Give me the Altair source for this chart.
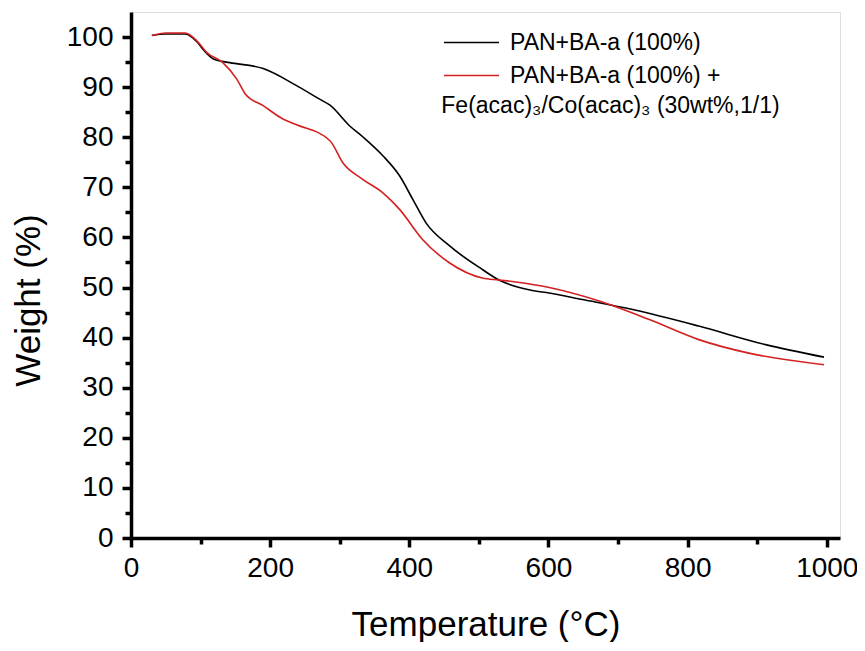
import altair as alt
import pandas as pd

# ---- data ----
black_T = [30, 50, 78, 95, 105, 120, 142, 190, 238, 271, 286, 314, 333, 362, 386, 405,
           424, 458, 505, 529, 544, 577, 601, 649, 721, 816, 912, 996]
black_W = [100.3, 100.6, 100.6, 99.0, 97.3, 95.5, 94.9, 93.7, 90.3, 87.6, 86.4, 82.3, 80.1,
           76.3, 72.3, 67.6, 62.9, 58.3, 53.6, 51.5, 50.6, 49.4, 48.9, 47.6, 45.6, 42.3, 38.6, 36.1]

red_T = [30, 50, 78, 95, 109, 132, 152, 164, 190, 219, 238, 286, 305, 333, 362, 386, 419,
         458, 505, 529, 553, 601, 673, 745, 816, 888, 996]
red_W = [100.3, 100.8, 100.8, 99.2, 96.9, 94.9, 91.6, 88.7, 86.3, 83.6, 82.5, 79.3, 74.8,
         71.6, 68.9, 65.6, 59.6, 54.9, 51.9, 51.5, 51.1, 50.0, 47.3, 43.6, 39.6, 36.9, 34.6]

series_names = ["PAN+BA-a (100%)", "PAN+BA-a (100%) +"]
series_colors = ["#000000", "#d42020"]
legend_continuation = ["Fe(acac)\u2083/Co(acac)\u2083 (30wt%,1/1)"]

x_major = [0, 200, 400, 600, 800, 1000]
x_minor = [100, 300, 500, 700, 900]
y_major = [0, 10, 20, 30, 40, 50, 60, 70, 80, 90, 100]
y_minor = [5, 15, 25, 35, 45, 55, 65, 75, 85, 95]

df = pd.concat([
    pd.DataFrame({"T": black_T, "W": black_W, "series": series_names[0]}),
    pd.DataFrame({"T": red_T, "W": red_W, "series": series_names[1]}),
], ignore_index=True)

FONT = "Liberation Sans"
x_scale = alt.Scale(domain=[0, 1019], nice=False, zero=False)
y_scale = alt.Scale(domain=[0, 105], nice=False)

lines = alt.Chart(df).mark_line(strokeWidth=1.6, interpolate="monotone").encode(
    x=alt.X("T:Q", scale=x_scale, axis=alt.Axis(
        values=x_major, format="d", title="Temperature (\u00b0C)", orient="bottom",
        labelFont=FONT, labelFontSize=28, labelColor="black", labelPadding=7,
        titleFont=FONT, titleFontSize=35, titleFontWeight="normal", titleColor="black",
        titlePadding=25, domainColor="black", domainWidth=3.5, tickColor="black",
        tickWidth=3.5, tickSize=9, grid=False, labelFlush=False, zindex=2)),
    y=alt.Y("W:Q", scale=y_scale, axis=alt.Axis(
        values=y_major, title="Weight (%)", orient="left",
        labelFont=FONT, labelFontSize=28, labelColor="black", labelPadding=9,
        titleFont=FONT, titleFontSize=35, titleFontWeight="normal", titleColor="black",
        titlePadding=20, titleY=288, domainColor="black", domainWidth=3.5, tickColor="black",
        tickWidth=3.5, tickSize=9, grid=False, labelFlush=False, zindex=2)),
    color=alt.Color("series:N", scale=alt.Scale(domain=series_names, range=series_colors),
                    legend=alt.Legend(
                        orient="none", legendX=329, legendY=19, title=None,
                        symbolType="M-3,0H3", symbolSize=336, symbolStrokeWidth=1.6,
                        labelFont=FONT, labelFontSize=23, labelColor="black",
                        labelOffset=27, rowPadding=9, padding=0, labelLimit=400)),
)

minor = alt.Chart(df).mark_point(opacity=0).encode(
    x=alt.X("T:Q", scale=x_scale, axis=alt.Axis(
        values=x_minor, orient="bottom", labels=False, title=None, domain=False,
        tickColor="black", tickWidth=3.5, tickSize=6, grid=False, zindex=2)),
    y=alt.Y("W:Q", scale=y_scale, axis=alt.Axis(
        values=y_minor, orient="left", labels=False, title=None, domain=False,
        tickColor="black", tickWidth=3.5, tickSize=6, grid=False, zindex=2)),
)

note_df = pd.DataFrame({"T": [446], "W": [86.2], "text": legend_continuation})
note = alt.Chart(note_df).mark_text(
    align="left", baseline="middle", font=FONT, fontSize=23, color="black"
).encode(x=alt.X("T:Q", scale=x_scale, axis=None),
         y=alt.Y("W:Q", scale=y_scale, axis=None), text="text:N")

chart = alt.layer(lines, minor, note).resolve_axis(
    x="independent", y="independent"
).properties(
    width=709, height=526,
    padding={"left": 123, "top": 4, "right": 17, "bottom": 104},
    autosize=alt.AutoSizeParams(type="none"),
).configure_view(stroke="black", strokeWidth=3.5).configure(background="white")

chart.save("out.html", embed_options={"renderer": "svg", "actions": False})
